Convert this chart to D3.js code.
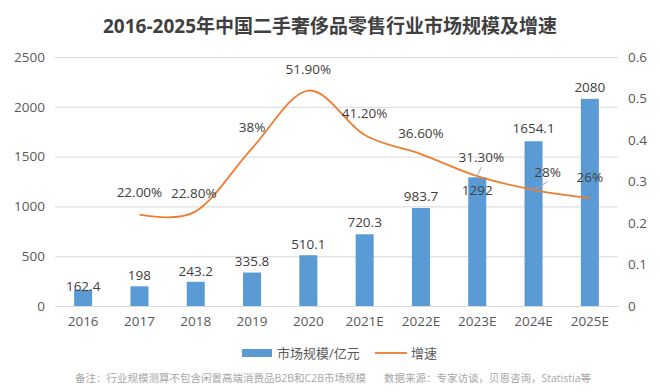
<!DOCTYPE html>
<html>
<head>
<meta charset="utf-8">
<script src="https://cdn.jsdelivr.net/npm/d3@7"></script>
<style>
  body { margin: 0; background: #fff; }
  text { font-family: "Open Sans", "Noto Sans CJK SC", sans-serif; }
</style>
</head>
<body>
<svg id="chart" width="660" height="392"></svg>
<script>
// ---- data ----
const categories = ["2016", "2017", "2018", "2019", "2020", "2021E", "2022E", "2023E", "2024E", "2025E"];
const marketSize = [162.4, 198, 243.2, 335.8, 510.1, 720.3, 983.7, 1292, 1654.1, 2080];
const growthRate = [null, 0.22, 0.228, 0.38, 0.519, 0.412, 0.366, 0.313, 0.28, 0.26];
const growthLabels = ["", "22.00%", "22.80%", "38%", "51.90%", "41.20%", "36.60%", "31.30%", "28%", "26%"];
const leftTicks = [0, 500, 1000, 1500, 2000, 2500];
const rightTicks = [0, 0.1, 0.2, 0.3, 0.4, 0.5, 0.6];
const title = "2016-2025年中国二手奢侈品零售行业市场规模及增速";
const legendNames = ["市场规模/亿元", "增速"];
const footnote = "备注：行业规模测算不包含闲置高端消费品B2B和C2B市场规模";
const source = "数据来源：专家访谈，贝恩咨询，Statistia等";

// ---- label placement tweaks (style, not data) ----
const barLabelDy = [-4, -11, -11, -11, -11, -12, -12, 13, -13, -12];
const pctLabelDx = [0, 0, -2, 0, 0, 0, 0, 4, 14, 0];
const pctLabelDy = [0, -22, -18, -21, -21, -22, -21, -19, -18, -21];
const leaders = [null, null, null, null, null, null, null, true, true, null];

const svg = d3.select("#chart");
const margin = { left: 55, right: 42, top: 57, bottom: 86 };
const W = 660, H = 392;
const x0 = margin.left, x1 = W - margin.right;
const yTop = margin.top, yBot = H - margin.bottom;

const x = d3.scaleBand().domain(categories).range([x0, x1]).paddingInner(0.68).paddingOuter(0.34);
const yL = d3.scaleLinear().domain([0, 2500]).range([yBot, yTop]);
const yR = d3.scaleLinear().domain([0, 0.6]).range([yBot, yTop]);
const xc = c => x(c) + x.bandwidth() / 2;

// title
svg.append("text").attr("x", 330).attr("y", 33).attr("text-anchor", "middle")
  .attr("font-size", 19).attr("font-weight", "bold").attr("fill", "#404040").text(title);

// gridlines
svg.append("g").selectAll("line").data(leftTicks).join("line")
  .attr("x1", x0).attr("x2", x1)
  .attr("y1", d => yL(d) + 0.5).attr("y2", d => yL(d) + 0.5)
  .attr("stroke", "#d9d9d9").attr("stroke-width", 1);

// left axis
const axL = svg.append("g").attr("transform", `translate(${x0 - 10},0)`)
  .call(d3.axisLeft(yL).tickValues(leftTicks).tickSize(0).tickPadding(0).tickFormat(d3.format("d")));
axL.select(".domain").remove();
axL.selectAll("text").attr("font-size", 13.5).attr("fill", "#595959").attr("font-family", null);

// right axis
const axR = svg.append("g").attr("transform", `translate(${x1 + 10},0)`)
  .call(d3.axisRight(yR).tickValues(rightTicks).tickSize(0).tickPadding(0).tickFormat(d => d === 0 ? "0" : d3.format(".1f")(d)));
axR.select(".domain").remove();
axR.selectAll("text").attr("font-size", 13.5).attr("fill", "#595959").attr("font-family", null);

// bottom axis
const axB = svg.append("g").attr("transform", `translate(0,${yBot + 8})`)
  .call(d3.axisBottom(x).tickSize(0).tickPadding(2));
axB.select(".domain").remove();
axB.selectAll("text").attr("font-size", 13.5).attr("fill", "#595959").attr("font-family", null);

// bars
svg.append("g").selectAll("rect").data(marketSize).join("rect")
  .attr("x", (d, i) => x(categories[i]))
  .attr("y", d => yL(d))
  .attr("width", x.bandwidth())
  .attr("height", d => yBot - yL(d))
  .attr("fill", "#5b9bd5");

// line
const pts = growthRate.map((v, i) => ({ c: categories[i], v })).filter(d => d.v !== null);
const line = d3.line().x(d => xc(d.c)).y(d => yR(d.v)).curve(d3.curveCardinal.tension(0));
svg.append("path").datum(pts).attr("d", line)
  .attr("fill", "none").attr("stroke", "#ed7d31").attr("stroke-width", 1.8);

// bar labels
svg.append("g").selectAll("text").data(marketSize).join("text")
  .attr("x", (d, i) => xc(categories[i]))
  .attr("y", (d, i) => yL(d) + barLabelDy[i])
  .attr("dy", "0.35em").attr("text-anchor", "middle")
  .attr("font-size", 13.5).attr("fill", "#404040")
  .text(d => String(d));

// leader lines
pts.forEach(d => {
  const i = categories.indexOf(d.c);
  if (!leaders[i]) return;
  const px = xc(d.c), py = yR(d.v);
  const lx = px + pctLabelDx[i], ly = py + pctLabelDy[i];
  svg.append("line")
    .attr("x1", px).attr("y1", py)
    .attr("x2", lx).attr("y2", ly + 10)
    .attr("stroke", "#a6a6a6").attr("stroke-width", 1);
});

// percent labels
svg.append("g").selectAll("text").data(pts).join("text")
  .attr("x", d => xc(d.c) + pctLabelDx[categories.indexOf(d.c)])
  .attr("y", d => yR(d.v) + pctLabelDy[categories.indexOf(d.c)])
  .attr("dy", "0.35em").attr("text-anchor", "middle")
  .attr("font-size", 13.5).attr("fill", "#404040")
  .text(d => growthLabels[categories.indexOf(d.c)]);

// legend
const lg = svg.append("g").attr("transform", "translate(0,353)");
lg.append("rect").attr("x", 242).attr("y", -4).attr("width", 30).attr("height", 8).attr("fill", "#5b9bd5");
lg.append("text").attr("x", 277).attr("y", 0).attr("dy", "0.35em").attr("font-size", 13)
  .attr("fill", "#595959").text(legendNames[0]);
lg.append("line").attr("x1", 375).attr("x2", 407).attr("y1", 0).attr("y2", 0)
  .attr("stroke", "#ed7d31").attr("stroke-width", 1.8);
lg.append("text").attr("x", 411).attr("y", 0).attr("dy", "0.35em").attr("font-size", 13)
  .attr("fill", "#595959").text(legendNames[1]);

// footnote
svg.append("text").attr("x", 75).attr("y", 378).attr("dy", "0.35em").attr("font-size", 10.5)
  .attr("fill", "#a6a6a6").text(footnote);
svg.append("text").attr("x", 591).attr("y", 378).attr("dy", "0.35em").attr("text-anchor", "end")
  .attr("font-size", 10.5).attr("fill", "#a6a6a6").text(source);
</script>
</body>
</html>
